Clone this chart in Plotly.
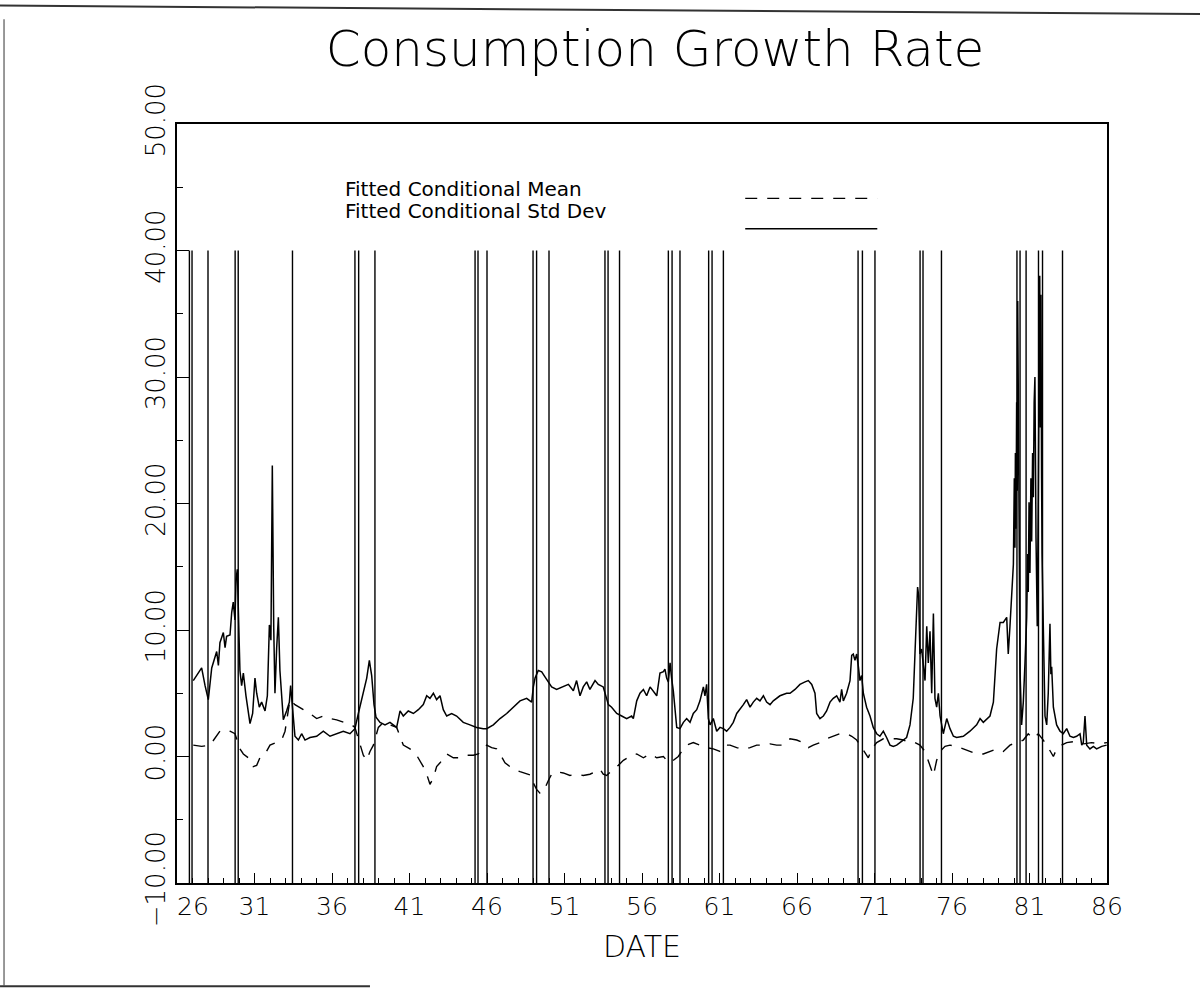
import plotly.graph_objects as go

# ---- text ----
title_text = "Consumption Growth Rate"
x_title = "DATE"
legend_labels = ["Fitted Conditional Mean", "Fitted Conditional Std Dev"]

# ---- axes ----
x_ticks = [26, 31, 36, 41, 46, 51, 56, 61, 66, 71, 76, 81, 86]
y_ticks = [-10, 0, 10, 20, 30, 40, 50]

# ---- business-cycle turning points (year, two digits + fraction) ----
recession_dates = [26.80, 26.97, 28.00, 29.75, 29.95, 33.45, 37.48, 37.72, 38.77,
                   45.23, 45.42, 46.00, 48.97, 49.20, 50.00, 53.61, 53.81, 54.55,
                   57.70, 57.94, 58.45, 60.30, 60.52, 61.25, 69.94, 70.22, 71.03,
                   73.94, 74.13, 75.32, 80.19, 80.39, 80.78, 81.58, 81.84, 83.13]
recession_span = [-10, 40]

# ---- fitted conditional standard deviation ----
std_year = [27.05, 27.38, 27.59, 27.81, 28.02, 28.24, 28.34, 28.56, 28.67, 28.77,
            28.99, 29.10, 29.20, 29.42, 29.53, 29.63, 29.74, 29.81, 29.89, 29.98,
            30.06, 30.17, 30.28, 30.45, 30.60, 30.71, 30.88, 31.03, 31.14, 31.31,
            31.46, 31.68, 31.83, 31.96, 32.06, 32.15, 32.24, 32.32, 32.43, 32.54,
            32.64, 32.75, 32.86, 33.07, 33.25, 33.33, 33.46, 33.61, 33.83, 34.04,
            34.26, 34.58, 35.01, 35.44, 35.87, 36.30, 36.73, 37.16, 37.48, 37.70,
            37.98, 38.24, 38.41, 38.56, 38.71, 38.84, 39.10, 39.42, 39.74, 40.17,
            40.39, 40.60, 40.92, 41.25, 41.57, 41.89, 42.11, 42.32, 42.54, 42.75,
            42.97, 43.18, 43.40, 43.72, 44.04, 44.47, 44.90, 45.33, 45.76,
            45.98, 46.41, 46.84, 47.27, 47.70, 48.13, 48.56, 48.88, 48.99, 49.10,
            49.31, 49.53, 49.74, 49.96, 50.17, 50.49, 50.92, 51.25, 51.57, 51.78,
            52.00, 52.21, 52.43, 52.64, 52.97, 53.18, 53.50, 53.68, 53.83, 54.04,
            54.37, 54.69, 55.01, 55.33, 55.44, 55.66, 55.87, 56.09, 56.30, 56.52,
            56.73, 56.95, 57.16, 57.38, 57.48, 57.59, 57.70, 57.81, 57.91, 58.02,
            58.24, 58.45, 58.67, 58.88, 59.10, 59.31, 59.53, 59.74, 59.96, 60.06,
            60.17, 60.28, 60.39, 60.60, 60.82, 61.03, 61.25, 61.46, 61.68, 61.89,
            62.11, 62.32, 62.54, 62.75, 62.97, 63.18, 63.40, 63.61, 63.83, 64.04,
            64.26, 64.47, 64.90, 65.33,
            65.55, 65.87, 66.19, 66.52, 66.73, 66.95, 67.16, 67.27, 67.48, 67.70,
            67.91, 68.13, 68.34, 68.56, 68.77, 68.88, 68.99, 69.20, 69.42, 69.53,
            69.63, 69.74, 69.85, 69.96, 70.06, 70.17, 70.28, 70.49, 70.71, 70.92,
            71.14, 71.35, 71.57, 71.78, 72.00, 72.21, 72.43, 72.64, 72.86, 73.07,
            73.29, 73.50, 73.61, 73.72, 73.78, 73.85, 73.93, 74.04, 74.15, 74.26,
            74.37, 74.47, 74.58, 74.69, 74.80, 74.90, 75.01, 75.12, 75.23, 75.44,
            75.66, 75.87, 76.09, 76.30, 76.73, 77.16, 77.59, 77.81, 78.02, 78.24,
            78.45, 78.67, 78.88, 79.10, 79.31, 79.53, 79.63, 79.74, 79.85, 79.96,
            80.02, 80.06, 80.09, 80.13, 80.17, 80.21, 80.24, 80.30, 80.39, 80.49,
            80.60, 80.71, 80.82, 80.88, 80.92, 80.97, 81.03, 81.09, 81.14, 81.20,
            81.25, 81.30, 81.35, 81.42, 81.50, 81.57, 81.62, 81.66, 81.70, 81.74,
            81.78, 81.81, 81.89, 82.00, 82.11, 82.21, 82.27, 82.32, 82.38, 82.43,
            82.54, 82.75, 82.97,
            83.18, 83.40, 83.61, 83.83, 84.04, 84.26, 84.37, 84.47, 84.58, 84.69,
            84.90, 85.12, 85.33, 85.66, 85.98]
std_val = [6.0, 6.6, 7.0, 5.6, 4.5, 7.0, 7.4, 8.3, 7.2, 9.0,
           9.8, 8.6, 9.5, 9.6, 11.4, 12.2, 10.8, 14.0, 14.8, 10.4,
           6.8, 5.6, 6.6, 4.8, 3.4, 2.6, 3.4, 6.2, 5.0, 3.9,
           4.3, 3.6, 4.8, 10.4, 9.2, 23.0, 10.2, 5.0, 8.6, 11.0,
           6.8, 5.0, 2.9, 3.6, 4.3, 5.6, 3.9, 1.6, 1.3, 1.8,
           1.3, 1.5, 1.6, 2.0, 1.6, 1.8, 2.0, 1.8, 2.2, 3.4,
           4.8, 6.2, 7.6, 6.4, 4.1, 3.1, 2.7, 2.5, 2.7, 2.3,
           3.6, 3.2, 3.6, 3.4, 3.7, 4.1, 4.8, 4.6, 5.0, 4.5,
           4.8, 3.7, 3.2, 3.4, 3.2, 2.7, 2.5, 2.3, 2.2,
           2.2, 2.5, 3.0, 3.4, 3.9, 4.4, 4.6, 4.3, 5.5, 6.2,
           6.8, 6.7, 6.3, 5.9, 5.5, 5.3, 5.5, 5.7, 5.2, 6.0,
           4.8, 5.5, 5.9, 5.3, 6.0, 5.7, 5.5, 4.8, 4.1, 3.9,
           3.4, 3.2, 3.0, 3.2, 3.0, 4.4, 5.0, 5.3, 4.8, 5.5,
           5.2, 4.8, 6.6, 6.7, 6.9, 6.2, 5.9, 7.4, 6.2, 5.2,
           2.3, 2.2, 2.7, 3.0, 2.7, 3.4, 3.7, 4.4, 5.5, 4.8,
           5.7, 3.0, 2.5, 3.0, 2.0, 2.3, 2.2, 2.0, 2.3, 2.7,
           3.4, 3.7, 4.1, 4.5, 3.9, 4.3, 4.6, 4.4, 4.8, 4.3,
           4.1, 4.4, 4.8, 5.0,
           5.0, 5.3, 5.7, 5.9, 6.0, 5.7, 5.0, 3.4, 3.0, 3.2,
           3.6, 4.3, 4.6, 4.8, 4.3, 5.3, 4.4, 5.0, 6.0, 8.0,
           8.1, 7.6, 8.1, 7.1, 6.0, 6.4, 5.0, 3.9, 3.2, 2.3,
           1.8, 1.6, 2.0, 1.5, 0.9, 0.8, 0.9, 1.1, 1.3, 1.5,
           2.5, 4.6, 8.1, 11.7, 13.4, 12.7, 8.1, 8.5, 7.4, 6.0,
           10.3, 7.4, 9.9, 5.0, 11.3, 4.6, 3.9, 5.0, 3.2, 1.8,
           3.0, 2.2, 1.6, 1.5, 1.6, 2.0, 2.5, 3.0, 2.7, 3.0,
           3.2, 4.3, 8.5, 10.6, 10.6, 11.0, 8.1, 10.3, 12.7, 15.2,
           22.0, 16.5, 24.0, 18.0, 28.0, 21.0, 36.0, 20.8, 6.7, 2.5,
           4.3, 7.4, 11.0, 16.0, 13.0, 20.1, 14.5, 22.0, 17.0, 24.0,
           20.5, 28.0, 30.0, 17.3, 10.3, 20.8, 30.0, 38.0, 26.0, 36.5,
           22.0, 16.0, 10.3, 3.2, 2.5, 5.0, 8.0, 10.5, 6.5, 7.1,
           3.9, 2.5, 2.0,
           1.8, 2.2, 1.6, 1.5, 1.6, 1.8, 0.9, 1.1, 3.2, 0.9,
           0.6, 0.8, 0.6, 0.8, 0.9]

# ---- fitted conditional mean ----
mean_year = [27.05, 27.59, 28.13, 28.45, 28.77, 29.10, 29.42, 29.74, 30.06, 30.28,
             30.60, 30.92, 31.14, 31.35, 31.68, 32.00, 32.43, 32.75, 32.97, 33.29,
             33.61, 33.93, 34.15, 34.58, 35.01, 35.44, 35.87, 36.30, 36.73, 37.27,
             37.48, 37.81, 38.02, 38.24, 38.45, 38.67, 38.99, 39.31, 39.74, 40.17,
             40.60, 41.03, 41.46, 41.89, 42.11, 42.32, 42.54, 42.75, 42.97, 43.40,
             43.83, 44.26, 44.69, 45.12, 45.44,
             45.98, 46.30, 46.62, 46.84, 47.16, 47.48, 47.70, 48.13, 48.56, 48.88,
             48.99, 49.20, 49.42, 49.63, 49.96, 50.17, 50.49, 50.92, 51.35, 51.78,
             52.21, 52.64, 52.97, 53.29, 53.50, 53.72, 54.15, 54.47, 54.80, 55.23,
             55.66, 56.09, 56.52, 56.95, 57.38, 57.59, 57.81, 58.02, 58.34, 58.56,
             58.88, 59.31, 59.74, 60.17, 60.60, 61.03, 61.35, 61.68, 62.11, 62.54,
             62.97, 63.40, 63.83, 64.26, 64.69, 65.12,
             65.55, 65.98, 66.41, 66.73, 67.05, 67.48, 67.91, 68.34, 68.77, 69.20,
             69.53, 69.85, 70.17, 70.39, 70.60, 70.82, 71.14, 71.57, 72.00, 72.43,
             72.86, 73.29, 73.61, 73.93, 74.26, 74.47, 74.69, 74.80, 75.01, 75.23,
             75.55, 75.87, 76.30, 76.73, 77.16, 77.59, 78.02, 78.45, 78.88, 79.31,
             79.74, 80.17, 80.60, 80.92, 81.25, 81.57, 81.89, 82.21, 82.54, 82.75,
             83.07, 83.40, 84.00, 84.50, 85.00, 85.50, 86.00]
mean_val = [0.9, 0.8, 0.9, 1.5, 2.0, 2.1, 2.0, 1.8, 0.6, 0.2,
            -0.1, -0.8, -0.7, -0.1, 0.2, 0.9, 1.1, 1.3, 2.0, 4.5,
            4.1, 3.9, 3.7, 3.4, 3.0, 3.2, 3.0, 2.9, 2.7, 2.5,
            2.3, 0.9, 0.1, -0.3, 0.4, 0.9, 2.3, 2.7, 2.5, 2.3,
            0.9, 0.6, 0.1, -0.8, -1.4, -2.2, -1.7, -0.8, -0.5, 0.2,
            -0.1, -0.1, 0.1, 0.1, 0.2,
            0.9, 0.7, 0.6, 0.2, -0.5, -0.8, -1.0, -1.2, -1.4, -1.5,
            -2.1, -2.6, -2.9, -2.8, -1.9, -1.4, -1.2, -1.3, -1.5, -1.4,
            -1.5, -1.4, -1.2, -1.0, -1.4, -1.5, -1.0, -0.7, -0.3, 0.0,
            0.2, -0.1, 0.2, -0.1, 0.0, -0.3, -0.5, -0.3, 0.0, 0.4,
            0.9, 1.1, 0.9, 0.7, 0.6, 0.4, 0.9, 0.9, 0.7, 0.6,
            0.7, 0.9, 0.9, 1.0, 0.9, 0.9,
            1.4, 1.3, 1.1, 0.7, 0.9, 1.1, 1.4, 1.6, 1.8, 1.8,
            1.6, 1.3, 0.7, 0.2, -0.1, 0.6, 1.1, 1.4, 1.4, 1.4,
            1.3, 1.1, 1.1, 0.9, 0.4, -0.3, -1.0, -1.5, -0.3, 0.4,
            0.8, 0.9, 0.8, 0.6, 0.4, 0.2, 0.2, 0.4, 0.6, 0.4,
            0.9, 1.1, 1.3, 1.8, 1.4, 1.8, 1.3, 0.7, 0.0, 0.6,
            0.9, 1.1, 1.2, 1.0, 1.1, 1.0, 1.1]

FONT = "DejaVu Sans, Liberation Sans, sans-serif"
DASH = "12px,10px"

fig = go.Figure()

# vertical turning-point markers
rx, ry = [], []
for d in recession_dates:
    rx += [d, d, None]
    ry += [recession_span[0], recession_span[1], None]
fig.add_trace(go.Scatter(x=rx, y=ry, mode="lines",
                         line=dict(color="black", width=1.4),
                         hoverinfo="skip", showlegend=False))

fig.add_trace(go.Scatter(x=mean_year, y=mean_val, mode="lines",
                         name=legend_labels[0],
                         line=dict(color="black", width=1.4, dash=DASH),
                         showlegend=False))
fig.add_trace(go.Scatter(x=std_year, y=std_val, mode="lines",
                         name=legend_labels[1],
                         line=dict(color="black", width=1.5),
                         showlegend=False))

# in-plot key: labels and line samples
key_text_y = [0.915, 0.885]
key_line_y = [0.902, 0.862]
key_dash = [DASH, "solid"]
for label, ty, ly, dsh in zip(legend_labels, key_text_y, key_line_y, key_dash):
    fig.add_annotation(x=0.1785, y=ty, xref="paper", yref="paper",
                       text=label, showarrow=False, xanchor="left", yanchor="middle",
                       font=dict(family=FONT, size=20, color="black", weight=400))
    fig.add_shape(type="line", xref="paper", yref="paper",
                  x0=0.611, x1=0.753, y0=ly, y1=ly,
                  line=dict(color="black", width=1.4, dash=dsh))

# page edges around the figure
page_edges = [
    dict(x0=-0.1903, y0=1.156, x1=1.1, y1=1.145, w=2),
    dict(x0=-0.186, y0=1.138, x1=-0.186, y1=-0.135, w=1),
    dict(x0=-0.1903, y0=-0.136, x1=0.2075, y1=-0.136, w=2),
]
for e in page_edges:
    fig.add_shape(type="line", xref="paper", yref="paper",
                  x0=e["x0"], y0=e["y0"], x1=e["x1"], y1=e["y1"],
                  line=dict(color="#333333", width=e["w"]))

x_ticktext = ["\u2007\u2007" + str(x_ticks[0])] + [str(v) for v in x_ticks[1:]]

fig.update_layout(
    width=1200, height=991,
    margin=dict(l=177, r=93, t=124, b=108),
    paper_bgcolor="white", plot_bgcolor="white",
    font=dict(family=FONT, color="black", weight=200),
    title=dict(text=title_text, x=0.514, xref="paper", xanchor="center",
               y=0.951, yref="container", yanchor="middle",
               font=dict(family=FONT, size=50, color="black", weight=200)),
    showlegend=False,
)
fig.update_xaxes(
    range=[26, 86], tickmode="array", tickvals=x_ticks, ticktext=x_ticktext,
    ticks="inside", ticklen=10, tickwidth=1.2, tickcolor="black",
    minor=dict(tickmode="linear", tick0=26, dtick=1, ticks="inside",
               ticklen=5, tickcolor="black", tickwidth=1),
    showgrid=False, zeroline=False,
    showline=True, linecolor="black", linewidth=2, mirror=True,
    tickfont=dict(family=FONT, size=25, color="black", weight=200),
    title=dict(text=x_title, standoff=16,
               font=dict(family=FONT, size=30, color="black", weight=200)),
)
fig.update_yaxes(
    range=[-10, 50], tickmode="array", tickvals=y_ticks, tickformat=".2f",
    tickangle=-90,
    ticks="inside", ticklen=12, tickwidth=1.2, tickcolor="black",
    minor=dict(tickmode="linear", tick0=-10, dtick=5, ticks="inside",
               ticklen=6, tickcolor="black", tickwidth=1),
    showgrid=False, zeroline=False,
    showline=True, linecolor="black", linewidth=2, mirror=True,
    tickfont=dict(family=FONT, size=26, color="black", weight=200),
)

fig.write_html("out.html")
